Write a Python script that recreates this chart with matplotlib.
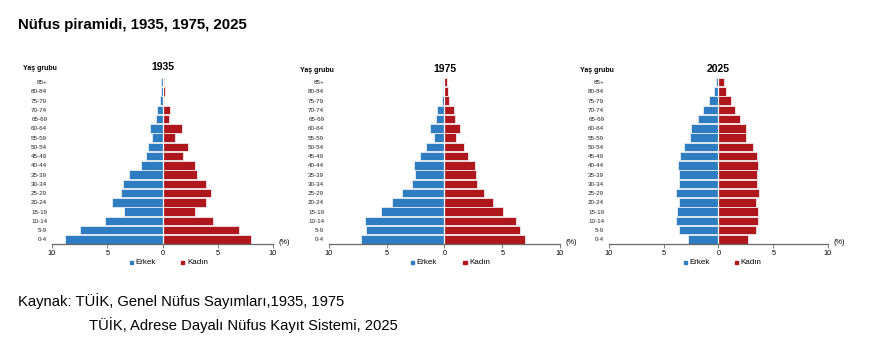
import matplotlib
matplotlib.use("Agg")
import matplotlib.pyplot as plt
from matplotlib.patches import Rectangle

plt.rcParams['font.family'] = ['Liberation Sans', 'DejaVu Sans']

ages = ["0-4", "5-9", "10-14", "15-19", "20-24", "25-29", "30-34", "35-39", "40-44",
        "45-49", "50-54", "55-59", "60-64", "65-69", "70-74", "75-79", "80-84", "85+"]

erkek_1935 = [8.85, 7.45, 5.2, 3.45, 4.6, 3.8, 3.6, 3.0, 1.95,
              1.5, 1.35, 0.95, 1.1, 0.6, 0.5, 0.24, 0.18, 0.12]
kadin_1935 = [8.0, 6.95, 4.55, 2.95, 3.9, 4.4, 3.95, 3.15, 2.9,
              1.9, 2.3, 1.15, 1.8, 0.6, 0.72, 0.15, 0.27, 0.15]

erkek_1975 = [7.2, 6.8, 6.9, 5.52, 4.57, 3.64, 2.83, 2.55, 2.63,
              2.14, 1.6, 0.9, 1.27, 0.75, 0.64, 0.23, 0.12, 0.12]
kadin_1975 = [6.97, 6.56, 6.16, 5.06, 4.16, 3.38, 2.8, 2.75, 2.63,
              2.0, 1.68, 0.98, 1.36, 0.9, 0.84, 0.38, 0.32, 0.2]

erkek_2025 = [2.83, 3.59, 3.84, 3.77, 3.62, 3.9, 3.65, 3.59, 3.71,
              3.53, 3.17, 2.62, 2.47, 1.83, 1.37, 0.88, 0.43, 0.27]
kadin_2025 = [2.71, 3.41, 3.65, 3.59, 3.47, 3.71, 3.5, 3.53, 3.65,
              3.53, 3.13, 2.53, 2.53, 1.98, 1.55, 1.13, 0.64, 0.52]

years = ["1935", "1975", "2025"]
ticks = [-10, -5, 0, 5, 10]

BLUE = "#2E7DC2"
RED = "#AF171C"
W, H = 895, 351

fig = plt.figure(figsize=(W / 100, H / 100), dpi=100)


def px(x, y):
    return x / W, 1 - y / H


# panel placement in pixels: left, right
panels = [(52, 273), (329, 560), (609, 828)]
data = [(erkek_1935, kadin_1935), (erkek_1975, kadin_1975), (erkek_2025, kadin_2025)]
legend_x = [(131.5, 183), (412.5, 465), (685, 736)]
title_y = [67, 69, 69]

top_px, bot_px = 77.4, 243.5
for i, ((l, r), (m, f)) in enumerate(zip(panels, data)):
    x0, y0 = px(l, bot_px)
    ax = fig.add_axes([x0, y0, (r - l) / W, (bot_px - top_px) / H])
    y = list(range(len(ages)))
    ax.barh(y, [-v for v in m], height=0.92, color=BLUE, edgecolor="#DCE6EF", linewidth=0.7)
    ax.barh(y, f, height=0.92, color=RED, edgecolor="#EEDCDC", linewidth=0.7)
    ax.axvline(0, color="white", lw=0.9)
    ax.set_xlim(-10, 10)
    ax.set_ylim(-0.45, 17.5)
    ax.set_xticks(ticks)
    ax.set_xticklabels([str(abs(t)) for t in ticks], fontsize=5.3)
    ax.set_yticks(y)
    ax.set_yticklabels(ages, fontsize=4.5, color="#222222")
    ax.tick_params(axis="y", length=0, pad=3.5)
    ax.tick_params(axis="x", length=3, width=0.6, color="#666666", pad=1.5)
    for s in ["top", "right", "left"]:
        ax.spines[s].set_visible(False)
    ax.spines["bottom"].set_color("#666666")
    ax.spines["bottom"].set_linewidth(0.9)
    ax.set_facecolor("none")

    cx = (l + r) / 2
    fig.text(*px(cx, title_y[i]), years[i], fontsize=7.5, fontweight="bold",
             ha="center", va="center")
    fig.text(*px(l - 29, title_y[i] + 1), "Yaş grubu", fontsize=5, fontweight="bold",
             ha="left", va="center")
    fig.text(*px(r + 6, 242), "(%)", fontsize=5.3, ha="left", va="center")

    # legend
    for (lx, lab, col) in [(legend_x[i][0], "Erkek", BLUE), (legend_x[i][1], "Kadın", RED)]:
        sx, sy = px(lx - 1.5, 264)
        fig.patches.append(Rectangle((sx, sy), 3 / W, 3 / H, transform=fig.transFigure,
                                     color=col, figure=fig))
        fig.text(*px(lx + 4, 262.5), lab, fontsize=5.8, ha="left", va="center")

fig.text(*px(18, 25), "Nüfus piramidi, 1935, 1975, 2025", fontsize=10.8, fontweight="bold",
         ha="left", va="center")
fig.text(*px(18, 301), "Kaynak: TÜİK, Genel Nüfus Sayımları,1935, 1975", fontsize=10.6,
         ha="left", va="center")
fig.text(*px(89, 325), "TÜİK, Adrese Dayalı Nüfus Kayıt Sistemi, 2025", fontsize=10.6,
         ha="left", va="center")

fig.savefig("out.png", dpi=100)
